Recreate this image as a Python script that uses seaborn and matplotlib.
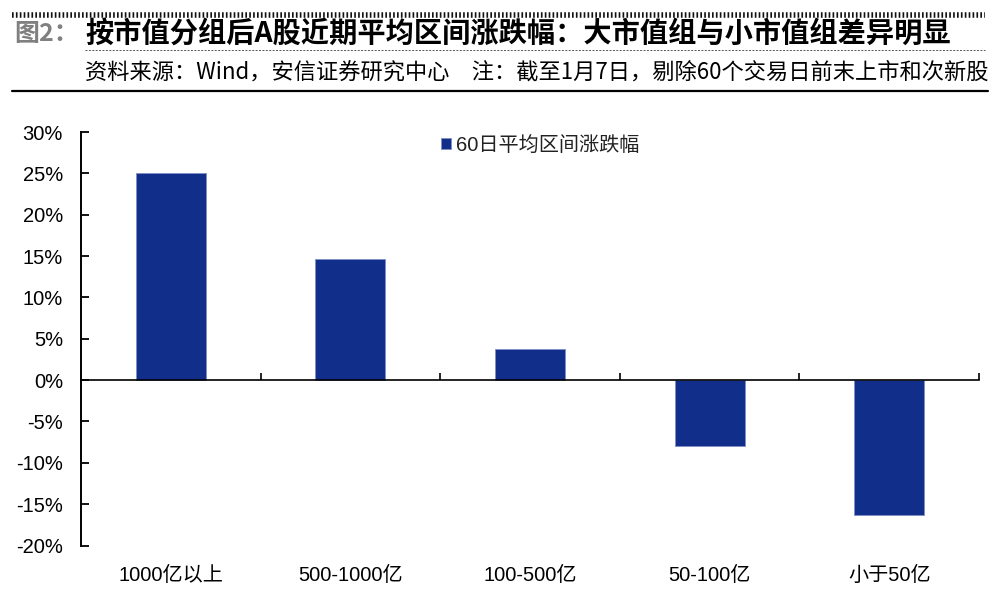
import numpy as np
import pandas as pd
import matplotlib
matplotlib.use('Agg')
import matplotlib.pyplot as plt
import seaborn as sns
from matplotlib.lines import Line2D
from matplotlib.ticker import PercentFormatter, FixedLocator

# data
categories = ['1000亿以上', '500-1000亿', '100-500亿', '50-100亿', '小于50亿']
values = [25.0, 14.6, 3.8, -8.0, -16.3]
series_name = '60日平均区间涨跌幅'
y_ticks = [-20, -15, -10, -5, 0, 5, 10, 15, 20, 25, 30]

title_head = '图2：'
title_main = '按市值分组后A股近期平均区间涨跌幅：大市值组与小市值组差异明显'
subtitle = '资料来源：Wind，安信证券研究中心　注：截至1月7日，剔除60个交易日前末上市和次新股'

bar_color = '#112F8A'

sns.set_theme(style='white')
plt.rcParams['font.family'] = ['Liberation Sans', 'Noto Sans CJK SC', 'DejaVu Sans']
plt.rcParams['axes.unicode_minus'] = False

df = pd.DataFrame({'group': categories, 'ret': values, 'series': series_name})

W, H = 1000, 597
fig = plt.figure(figsize=(W / 100, H / 100), dpi=100)
# axes spans x 81..979, y 132 (30%) .. 545.5 (-20%)
ax = fig.add_axes([81 / W, 1 - 545.5 / H, (979 - 81) / W, (545.5 - 132) / H])

sns.barplot(data=df, x='group', y='ret', hue='series', palette=[bar_color],
            saturation=1, width=0.39, edgecolor='#7f8fc6', linewidth=0.6,
            ax=ax)

ax.set_xlim(-0.5, 4.5)
ax.set_ylim(-20, 30)
ax.set_xlabel('')
ax.set_ylabel('')

# spines
for s in ['top', 'right']:
    ax.spines[s].set_visible(False)
ax.spines['left'].set_color('black')
ax.spines['left'].set_linewidth(1.4)
ax.spines['bottom'].set_position(('data', 0))
ax.spines['bottom'].set_color('black')
ax.spines['bottom'].set_linewidth(1.2)

ax.yaxis.set_major_locator(FixedLocator(y_ticks))
ax.yaxis.set_major_formatter(PercentFormatter(decimals=0))
ax.tick_params(axis='y', direction='in', length=6, width=1.3, color='black',
               labelsize=14.5, pad=13, labelcolor='black')
ax.tick_params(axis='y', left=True)

# category labels far below zero line, boundary ticks on the zero line
ax.xaxis.set_minor_locator(FixedLocator([0.5, 1.5, 2.5, 3.5, 4.5]))
ax.tick_params(axis='x', which='major', length=0, pad=134, labelsize=14.5,
               labelcolor='black')
ax.tick_params(axis='x', which='minor', direction='in', length=5, width=1.2,
               color='black', bottom=True)

# legend
leg = ax.legend(loc='center left', bbox_to_anchor=(431 / W, 1 - 145 / H),
                bbox_transform=fig.transFigure, frameon=False, fontsize=14.5,
                handlelength=0.5, handleheight=0.5, handletextpad=0.25,
                borderpad=0)
for t in leg.get_texts():
    t.set_color('#222222')

# header decorations
fig.add_artist(Line2D([12 / W, 985 / W], [1 - 14.5 / H, 1 - 14.5 / H],
                      transform=fig.transFigure, color='#111111', lw=4,
                      linestyle=(0, (0.3, 0.4)), zorder=5))
fig.text(14 / W, 1 - 34 / H, title_head, fontsize=18, fontweight='bold',
         color='#808080', va='center', ha='left',
         family=['Noto Sans CJK SC', 'DejaVu Sans'])
fig.text(85 / W, 1 - 34 / H, title_main, fontsize=20.3, fontweight='bold',
         color='black', va='center', ha='left',
         family=['Noto Sans CJK SC', 'DejaVu Sans'])
fig.add_artist(Line2D([85 / W, 985 / W], [1 - 50 / H, 1 - 50 / H],
                      transform=fig.transFigure, color='#555555', lw=0.7,
                      linestyle=(0, (2, 1.5))))
fig.text(85 / W, 1 - 72 / H, subtitle, fontsize=16, color='black',
         va='center', ha='left', family=['Noto Sans CJK SC', 'DejaVu Sans'])
fig.add_artist(Line2D([12 / W, 988 / W], [1 - 91 / H, 1 - 91 / H],
                      transform=fig.transFigure, color='black', lw=1.6))

fig.savefig('out.png', dpi=100)
